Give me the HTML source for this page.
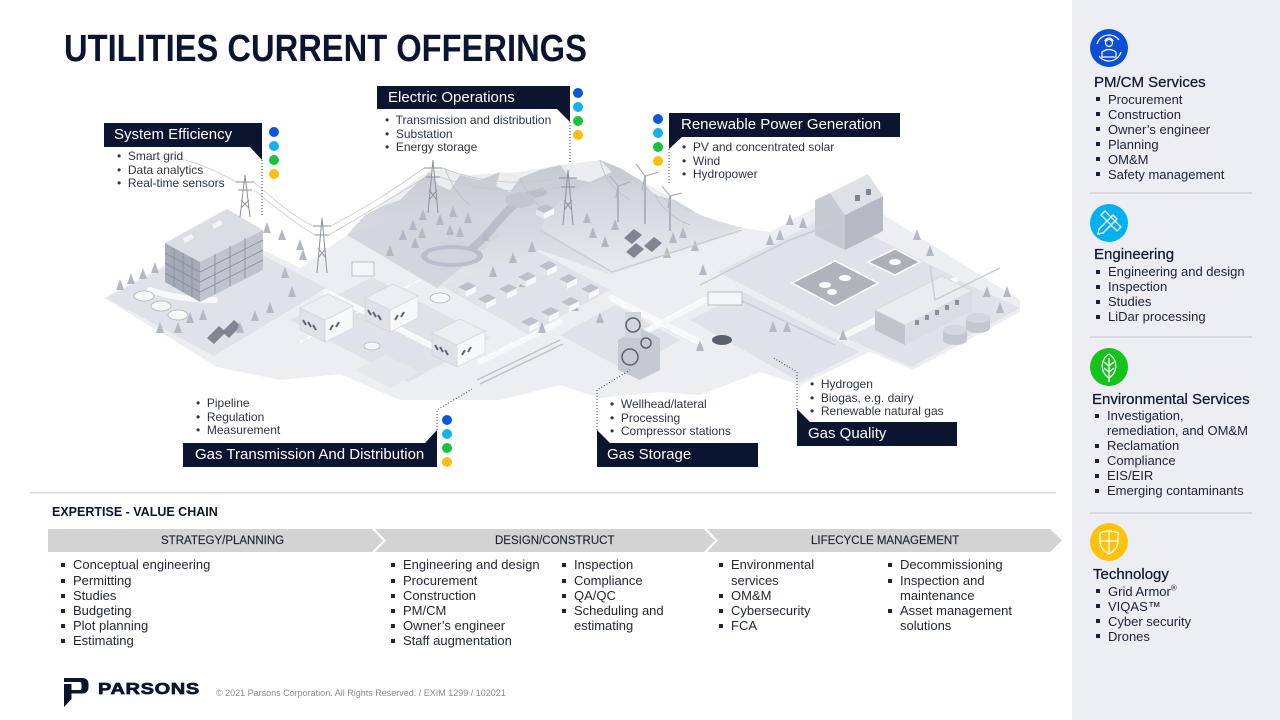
<!DOCTYPE html>
<html><head><meta charset="utf-8">
<style>
*{margin:0;padding:0;box-sizing:border-box}
body{width:1280px;height:720px;position:relative;background:#fff;font-family:"Liberation Sans",sans-serif;overflow:hidden;color:#1b2235}
.abs{position:absolute;white-space:nowrap}
.title{left:64px;top:28px;font-size:38px;font-weight:bold;color:#0c1530;transform:scaleX(0.86);transform-origin:0 0;letter-spacing:0}
.lt{position:absolute;color:#fff;font-size:15px;line-height:24px;white-space:nowrap}
.lb{position:absolute;font-size:12px;line-height:13.5px;color:#2d3446;white-space:nowrap}
.side{position:absolute;left:1072px;top:0;width:208px;height:720px;background:#eceef3}
.sh{position:absolute;font-size:15px;line-height:18px;color:#121a30;white-space:nowrap;-webkit-text-stroke:0.25px #121a30}
.sl{position:absolute;font-size:13px;line-height:15px;color:#1b2235;white-space:nowrap}
.sl div{position:relative;padding-left:12px}
.sl div::before{content:"";position:absolute;left:0;top:5.5px;width:4px;height:4px;background:#1b2235}
.sdiv{position:absolute;left:1090px;width:162px;height:2px;background:#d6d8de}
.vl{position:absolute;font-size:13px;line-height:15.2px;color:#1e2533;white-space:nowrap}
.vl div{position:relative;padding-left:12px}
.vl div::before{content:"";position:absolute;left:0;top:6px;width:4px;height:4px;background:#1e2533}
.ch{position:absolute;top:534px;font-size:11.5px;line-height:14px;color:#1e2533;white-space:nowrap;-webkit-text-stroke:0.15px #1e2533}
</style></head><body>

<div class="side"></div>

<svg class="abs" style="left:0;top:0" width="1280" height="720" viewBox="0 0 1280 720">
<defs>
<linearGradient id="mt" x1="0" y1="0" x2="0" y2="1"><stop offset="0" stop-color="#c4c9d2"/><stop offset="1" stop-color="#e4e7eb"/></linearGradient>
<linearGradient id="mt2" x1="0" y1="0" x2="0" y2="1"><stop offset="0" stop-color="#cdd1d9"/><stop offset="1" stop-color="#e9ebef"/></linearGradient>
</defs>
<!-- base ground -->
<polygon fill="#eceef2" points="104,298 226,232 300,268 347,235 380,205 430,170 470,175 520,172 560,165 600,160 640,180 700,215 742,228 770,232 820,205 860,200 1020,300 1020,312 913,370 870,352 800,385 760,372 700,395 660,392 600,398 560,385 500,400 400,400 340,374 280,380 217,367"/>
<!-- plates -->
<g fill="#dfe2e8">
<polygon points="106,298 226,236 326,288 214,356"/>
<polygon points="290,320 372,277 490,338 408,382"/>
<polygon points="440,285 520,242 610,290 528,334"/>
<polygon points="560,335 615,305 680,340 628,372"/>
<polygon points="718,272 830,215 955,277 840,335"/>
<polygon points="845,338 958,280 1020,308 912,367"/>
<polygon points="690,320 745,293 860,352 800,382"/>
</g>
<!-- roads -->
<g stroke="#f7f8fa" stroke-width="6" fill="none" stroke-linecap="round">
<path d="M215,300 Q180,300 150,290"/><path d="M326,292 L440,350"/><path d="M612,298 L700,342"/><path d="M705,300 L620,345"/><path d="M480,362 L560,322"/><path d="M840,338 L955,280"/>
</g>
<g stroke="#fff" stroke-width="1.5" stroke-dasharray="6,5" fill="none">
<path d="M330,292 L440,348"/><path d="M420,280 L300,342"/><path d="M612,300 L700,345"/><path d="M700,300 L620,345"/><path d="M480,360 L560,320"/>
</g>
<!-- mountains -->
<polygon fill="url(#mt)" points="347,235 365,215 385,205 400,200 415,185 430,172 445,168 460,175 480,180 500,172 520,178 540,170 560,165 585,170 600,160 620,168 640,180 655,195 675,200 700,215 720,222 742,228 612,275 540,250 437,288"/>
<polygon fill="url(#mt2)" points="540,228 560,200 585,185 610,178 640,185 665,200 690,212 720,222 742,228 612,275"/>
<polygon fill="#d2d6dd" points="347,235 400,215 437,205 480,220 500,235 437,288"/>
<g fill="#f4f5f7" opacity="0.8">
<polygon points="430,172 445,168 460,175 450,190 438,185"/>
<polygon points="560,165 585,170 600,160 612,172 590,182 570,178"/>
<polygon points="500,172 520,178 510,192 496,186"/>
</g>
<g stroke="#b8bec8" stroke-width="1" fill="none" opacity="0.8">
<path d="M445,168 Q455,195 470,205"/><path d="M600,160 Q605,185 630,200"/><path d="M520,178 Q530,200 545,210"/><path d="M655,195 Q665,215 690,225"/>
</g>
<!-- lake & river -->
<path d="M470,250 C490,235 500,215 520,200 C530,192 540,195 545,190" stroke="#b9bec8" stroke-width="8" fill="none"/>
<ellipse cx="452" cy="256" rx="31" ry="11" fill="#b9bec8"/>
<ellipse cx="452" cy="256" rx="25" ry="7" fill="#d1d5dc"/>
<ellipse cx="520" cy="200" rx="15" ry="8" fill="#c2c7cf"/>
<!-- office building -->
<polygon fill="#a4aab6" points="165,243 200,262 200,302 165,282"/>
<polygon fill="#bfc4ce" points="200,262 263,230 263,270 200,302"/>
<polygon fill="#dadde3" points="165,243 227,209 263,230 200,262"/>
<g stroke="#868c99" stroke-width="0.8">
<path d="M165,253 L200,272 M165,263 L200,282 M165,273 L200,292 M174,248 V287 M183,253 V292 M192,258 V297"/>
<path d="M200,272 L263,240 M200,282 L263,250 M200,292 L263,260 M215,254 V294 M230,246 V286 M245,238 V278"/>
</g>
<rect x="183" y="236" width="10" height="5" fill="#f3f4f6" transform="rotate(-28 188 238)"/>
<rect x="212" y="222" width="10" height="5" fill="#f3f4f6" transform="rotate(-28 217 224)"/>
<!-- pylons -->
<g stroke="#8a919c" stroke-width="1" fill="none">
<path d="M240,217 L245,175 L250,217 M236,182 H254 M238,190 H252 M241,200 L249,208 M249,200 L241,208"/>
<path d="M317,273 L322,218 L327,273 M313,226 H331 M315,235 H329 M318,248 L326,258 M326,248 L318,258"/>
<path d="M428,213 L433,160 L438,213 M424,168 H442 M426,177 H440 M429,190 L437,200 M437,190 L429,200"/>
<path d="M563,225 L568,170 L573,225 M559,178 H577 M561,187 H575 M564,200 L572,210 M572,200 L564,210"/>
</g>
<g stroke="#c4c8cf" stroke-width="0.8" fill="none">
<path d="M254,182 Q290,215 313,226 M254,190 Q290,220 315,235"/>
<path d="M331,226 Q380,200 424,168 M329,235 Q380,205 426,177"/>
<path d="M442,168 Q500,190 559,178 M440,177 Q500,198 561,187"/>
<path d="M236,182 Q180,150 150,160"/>
</g>
<!-- wind turbines -->
<g stroke="#adb3bd" fill="none">
<path d="M618,222 V186" stroke-width="2"/><path d="M618,186 L610,176 M618,186 L630,182 M618,186 L616,198" stroke-width="1.2"/>
<path d="M645,224 V176" stroke-width="2"/><path d="M645,176 L636,164 M645,176 L659,172 M645,176 L642,190" stroke-width="1.2"/>
<path d="M670,231 V196" stroke-width="2"/><path d="M670,196 L662,186 M670,196 L682,193 M670,196 L668,208" stroke-width="1.2"/>
</g>
<!-- solar panels -->
<g fill="#7f8692">
<polygon points="624,238 634,229 642,235 632,244"/><polygon points="644,246 654,237 662,243 652,252"/><polygon points="626,252 636,243 644,249 634,258"/>
<polygon points="207,338 219,326 226,332 214,344"/><polygon points="222,332 234,320 241,326 229,338"/>
</g>
<!-- trees -->
<g fill="#b3b9c4">
<polygon points="120,279 124,290 116,290"/><polygon points="131,273 135,284 127,284"/><polygon points="143,268 147,279 139,279"/><polygon points="155,262 159,273 151,273"/>
<polygon points="190,312 194,323 186,323"/><polygon points="178,322 182,333 174,333"/><polygon points="203,309 207,320 199,320"/><polygon points="160,322 164,333 156,333"/><polygon points="240,322 244,333 236,333"/><polygon points="255,310 259,321 251,321"/>
<polygon points="267,222 271,233 263,233"/><polygon points="282,229 286,240 278,240"/><polygon points="300,239 304,250 296,250"/><polygon points="303,249 307,260 299,260"/><polygon points="285,267 289,278 281,278"/><polygon points="292,286 296,297 288,297"/><polygon points="270,302 274,313 266,313"/>
<polygon points="423,209 427,220 419,220"/><polygon points="440,214 444,225 436,225"/><polygon points="453,206 457,217 449,217"/><polygon points="468,212 472,223 464,223"/><polygon points="413,219 417,230 409,230"/><polygon points="422,227 426,238 418,238"/><polygon points="450,224 454,235 446,235"/><polygon points="460,226 464,237 456,237"/><polygon points="403,229 407,240 399,240"/><polygon points="415,237 419,248 411,248"/><polygon points="390,245 394,256 386,256"/><polygon points="485,230 489,241 481,241"/>
<polygon points="513,252 517,263 509,263"/><polygon points="532,241 536,252 528,252"/><polygon points="493,266 497,277 489,277"/><polygon points="470,282 474,293 466,293"/><polygon points="542,322 546,333 538,333"/><polygon points="523,276 527,287 519,287"/><polygon points="575,300 579,311 571,311"/><polygon points="600,312 604,323 596,323"/>
<polygon points="587,212 591,223 583,223"/><polygon points="593,227 597,238 589,238"/><polygon points="605,236 609,247 601,247"/><polygon points="615,219 619,230 611,230"/><polygon points="673,232 677,243 669,243"/><polygon points="683,227 687,238 679,238"/><polygon points="667,247 671,258 663,258"/><polygon points="703,264 707,275 699,275"/><polygon points="695,240 699,251 691,251"/>
<polygon points="770,234 774,245 766,245"/><polygon points="780,229 784,240 776,240"/><polygon points="790,214 794,225 786,225"/><polygon points="803,217 807,228 799,228"/><polygon points="917,229 921,240 913,240"/><polygon points="930,245 934,256 926,256"/>
<polygon points="987,286 991,297 983,297"/><polygon points="1007,286 1011,297 1003,297"/><polygon points="1000,302 1004,313 996,313"/>
<polygon points="773,321 777,332 769,332"/><polygon points="787,321 791,332 783,332"/><polygon points="843,329 847,340 839,340"/><polygon points="700,340 704,351 696,351"/>
</g>
<!-- houses -->
<g>
<g transform="translate(487,300)"><polygon fill="#e2e5e9" points="-9,-1 -1,3 -1,9 -9,5"/><polygon fill="#f7f8f9" points="-1,3 9,-2 9,4 -1,9"/><polygon fill="#bcc1ca" points="-9,-1 1,-6 9,-2 -1,3"/></g>
<g transform="translate(508,290)"><polygon fill="#e2e5e9" points="-9,-1 -1,3 -1,9 -9,5"/><polygon fill="#f7f8f9" points="-1,3 9,-2 9,4 -1,9"/><polygon fill="#bcc1ca" points="-9,-1 1,-6 9,-2 -1,3"/></g>
<g transform="translate(527,278)"><polygon fill="#e2e5e9" points="-9,-1 -1,3 -1,9 -9,5"/><polygon fill="#f7f8f9" points="-1,3 9,-2 9,4 -1,9"/><polygon fill="#bcc1ca" points="-9,-1 1,-6 9,-2 -1,3"/></g>
<g transform="translate(548,267)"><polygon fill="#e2e5e9" points="-9,-1 -1,3 -1,9 -9,5"/><polygon fill="#f7f8f9" points="-1,3 9,-2 9,4 -1,9"/><polygon fill="#bcc1ca" points="-9,-1 1,-6 9,-2 -1,3"/></g>
<g transform="translate(530,323)"><polygon fill="#e2e5e9" points="-9,-1 -1,3 -1,9 -9,5"/><polygon fill="#f7f8f9" points="-1,3 9,-2 9,4 -1,9"/><polygon fill="#bcc1ca" points="-9,-1 1,-6 9,-2 -1,3"/></g>
<g transform="translate(550,313)"><polygon fill="#e2e5e9" points="-9,-1 -1,3 -1,9 -9,5"/><polygon fill="#f7f8f9" points="-1,3 9,-2 9,4 -1,9"/><polygon fill="#bcc1ca" points="-9,-1 1,-6 9,-2 -1,3"/></g>
<g transform="translate(590,290)"><polygon fill="#e2e5e9" points="-9,-1 -1,3 -1,9 -9,5"/><polygon fill="#f7f8f9" points="-1,3 9,-2 9,4 -1,9"/><polygon fill="#bcc1ca" points="-9,-1 1,-6 9,-2 -1,3"/></g>
<g transform="translate(570,303)"><polygon fill="#e2e5e9" points="-9,-1 -1,3 -1,9 -9,5"/><polygon fill="#f7f8f9" points="-1,3 9,-2 9,4 -1,9"/><polygon fill="#bcc1ca" points="-9,-1 1,-6 9,-2 -1,3"/></g>
<g transform="translate(568,280)"><polygon fill="#e2e5e9" points="-9,-1 -1,3 -1,9 -9,5"/><polygon fill="#f7f8f9" points="-1,3 9,-2 9,4 -1,9"/><polygon fill="#bcc1ca" points="-9,-1 1,-6 9,-2 -1,3"/></g>
<g transform="translate(545,210)"><polygon fill="#e2e5e9" points="-9,-1 -1,3 -1,9 -9,5"/><polygon fill="#f7f8f9" points="-1,3 9,-2 9,4 -1,9"/><polygon fill="#bcc1ca" points="-9,-1 1,-6 9,-2 -1,3"/></g>
<g transform="translate(467,288)"><polygon fill="#e2e5e9" points="-9,-1 -1,3 -1,9 -9,5"/><polygon fill="#f7f8f9" points="-1,3 9,-2 9,4 -1,9"/><polygon fill="#bcc1ca" points="-9,-1 1,-6 9,-2 -1,3"/></g>
</g>
<!-- shops -->
<g stroke="#cdd1d8" stroke-width="0.6">
<g><polygon fill="#dfe2e8" points="300,330 325,342 325,320 300,308"/><polygon fill="#f7f8fa" points="325,342 353,328 353,306 325,320"/><polygon fill="#eceef2" points="300,308 325,320 353,306 328,294"/></g>
<g transform="translate(65,-10)"><polygon fill="#dfe2e8" points="300,330 325,342 325,320 300,308"/><polygon fill="#f7f8fa" points="325,342 353,328 353,306 325,320"/><polygon fill="#eceef2" points="300,308 325,320 353,306 328,294"/></g>
<g transform="translate(132,25)"><polygon fill="#dfe2e8" points="300,330 325,342 325,320 300,308"/><polygon fill="#f7f8fa" points="325,342 353,328 353,306 325,320"/><polygon fill="#eceef2" points="300,308 325,320 353,306 328,294"/></g>
</g>
<g stroke="#5f6570" stroke-width="2">
<path d="M303,320 l3,5 M308,322 l3,5 M313,325 l3,5 M330,330 l3,-5 M336,327 l3,-5"/>
<path d="M368,310 l3,5 M373,312 l3,5 M378,315 l3,5 M395,320 l3,-5 M401,317 l3,-5"/>
<path d="M435,345 l3,5 M440,347 l3,5 M445,350 l3,5 M462,355 l3,-5 M468,352 l3,-5"/>
</g>
<polygon fill="#e6e8ec" points="355,370 385,355 420,372 390,388"/>
<!-- pipes -->
<path d="M477,380 L560,340 M480,384 L563,344" stroke="#bfc3cb" stroke-width="1.5" fill="none"/>
<!-- gas storage equipment -->
<polygon fill="#c5c9d1" points="618,340 640,328 660,338 660,370 640,380 618,370"/>
<rect x="625" y="312" width="16" height="26" fill="#d1d5dc"/>
<g stroke="#5c626d" stroke-width="1.5" fill="none"><circle cx="633" cy="325" r="7"/><circle cx="630" cy="357" r="8"/><circle cx="646" cy="343" r="5"/></g>
<!-- barn -->
<polygon fill="#b4b9c3" points="845,215 883,196 883,231 845,250"/>
<polygon fill="#c6cad2" points="815,235 845,250 845,215 830,193 815,200"/>
<polygon fill="#dee1e6" points="830,193 868,174 883,196 845,215"/>
<rect x="855" y="195" width="5" height="6" fill="#7f8692"/><rect x="866" y="189" width="5" height="6" fill="#7f8692"/>
<!-- cow pens -->
<polygon fill="#aeb3bc" stroke="#fff" stroke-width="1.5" points="792,283 835,261 878,283 835,306"/>
<polygon fill="#abb0b9" stroke="#fff" stroke-width="1.5" points="868,262 895,249 920,262 895,275"/>
<g fill="#fff"><ellipse cx="825" cy="285" rx="6" ry="3"/><ellipse cx="845" cy="278" rx="6" ry="3"/><ellipse cx="832" cy="292" rx="5" ry="3"/><ellipse cx="895" cy="262" rx="6" ry="3"/></g>
<!-- long barn -->
<polygon fill="#c0c5cd" points="875,330 905,345 905,325 875,310"/>
<polygon fill="#dadde3" points="905,345 972,311 972,291 905,325"/>
<polygon fill="#eaecef" stroke="#d0d3d9" stroke-width="0.6" points="875,310 905,325 972,291 942,276"/>
<g fill="#8a919d"><rect x="915" y="320" width="4" height="5"/><rect x="925" y="315" width="4" height="5"/><rect x="935" y="310" width="4" height="5"/><rect x="945" y="305" width="4" height="5"/><rect x="955" y="300" width="4" height="5"/></g>
<g fill="#c3c7cf"><rect x="943" y="330" width="24" height="10"/><ellipse cx="955" cy="340" rx="12" ry="5"/><ellipse cx="955" cy="330" rx="12" ry="5" fill="#d4d7dd"/>
<rect x="966" y="318" width="24" height="10"/><ellipse cx="978" cy="328" rx="12" ry="5"/><ellipse cx="978" cy="318" rx="12" ry="5" fill="#d4d7dd"/></g>
<!-- fences -->
<g stroke="#c9cdd4" stroke-width="1.5" fill="none">
<path d="M540,230 L612,272 L742,230"/><path d="M700,285 L790,240 L830,225"/><path d="M740,300 L835,345"/><path d="M935,300 L1000,268"/><path d="M930,265 L935,300"/>
</g>
<!-- vehicles -->
<rect x="352" y="262" width="22" height="14" fill="#f4f5f7" stroke="#aeb3bc" stroke-width="0.8"/>
<rect x="708" y="292" width="34" height="13" fill="#f4f5f7" stroke="#aeb3bc" stroke-width="0.8"/>
<ellipse cx="722" cy="340" rx="10" ry="5" fill="#5a606b"/>
<g fill="#f6f7f9" stroke="#aeb3bc" stroke-width="0.8"><ellipse cx="144" cy="296" rx="10" ry="5"/><ellipse cx="161" cy="306" rx="10" ry="5"/><ellipse cx="178" cy="315" rx="10" ry="5"/><ellipse cx="440" cy="298" rx="10" ry="5"/><ellipse cx="372" cy="346" rx="8" ry="4"/></g>

<!-- label boxes -->
<g fill="#0b1530">
<rect x="104" y="123" width="158" height="24"/><polygon points="250,147 262,147 262,160"/>
<rect x="377" y="86" width="193" height="23"/><polygon points="557,109 570,109 570,122"/>
<rect x="669" y="113" width="231" height="24"/><polygon points="669,137 682,137 669,149"/>
<rect x="183" y="443" width="254" height="24"/><polygon points="425,443 437,443 437,430"/>
<rect x="597" y="443" width="161" height="24"/><polygon points="597,443 610,443 597,430"/>
<rect x="797" y="422" width="160" height="24"/><polygon points="797,422 810,422 797,409"/>
</g>
<g stroke="#3b4150" stroke-width="1" stroke-dasharray="1,2" fill="none">
<path d="M262,160 V215"/><path d="M570,122 V162"/><path d="M669,149 V185"/>
<path d="M437,430 V410 L472,389"/><path d="M597,430 V390 L630,370"/><path d="M797,409 V372 L772,357"/>
</g>
<!-- colored dots -->
<g>
<circle cx="274" cy="132" r="5" fill="#0a58d6"/><circle cx="274" cy="146" r="5" fill="#14b1ec"/><circle cx="274" cy="160" r="5" fill="#17c33a"/><circle cx="274" cy="174" r="5" fill="#fdbf0f"/>
<circle cx="578" cy="93" r="5" fill="#0a58d6"/><circle cx="578" cy="107" r="5" fill="#14b1ec"/><circle cx="578" cy="121" r="5" fill="#17c33a"/><circle cx="578" cy="135" r="5" fill="#fdbf0f"/>
<circle cx="658" cy="119" r="5" fill="#0a58d6"/><circle cx="658" cy="133" r="5" fill="#14b1ec"/><circle cx="658" cy="147" r="5" fill="#17c33a"/><circle cx="658" cy="161" r="5" fill="#fdbf0f"/>
<circle cx="447" cy="420" r="5" fill="#0a58d6"/><circle cx="447" cy="434" r="5" fill="#14b1ec"/><circle cx="447" cy="448" r="5" fill="#17c33a"/><circle cx="447" cy="462" r="5" fill="#fdbf0f"/>
</g>

<!-- divider & chevrons -->
<rect x="30" y="492" width="1026" height="1.5" fill="#d8d9dc"/>
<g fill="#d3d3d3">
<polygon points="48,529 372,529 383,540.5 372,552 48,552"/>
<polygon points="375,529 704,529 715,540.5 704,552 375,552 386,540.5"/>
<polygon points="707,529 1050,529 1062,540.5 1050,552 707,552 718,540.5"/>
</g>

<!-- sidebar icons -->
<circle cx="1109" cy="48" r="19" fill="#0b50d4"/>
<g stroke="#fff" stroke-width="1.2" fill="none">
<path d="M1097,44 A12.5,12.5 0 0 1 1119,40"/><path d="M1121,52 A12.5,12.5 0 0 1 1099,56"/>
<circle cx="1109" cy="43" r="3.5"/><path d="M1104.5,41 Q1109,35 1113.5,41"/><path d="M1102,57 V52 Q1109,47 1116,52 V57 Z"/>
</g>
<circle cx="1109" cy="223" r="19" fill="#00b0f0"/>
<g stroke="#fff" stroke-width="1.3" fill="none">
<path d="M1099,229 L1113,215 L1117,219 L1103,233 L1098,234 Z"/>
<path d="M1101,215 L1105,211 L1121,227 L1117,231 Z"/>
</g>
<circle cx="1109" cy="367" r="19" fill="#16c21c"/>
<g stroke="#fff" stroke-width="1.3" fill="none">
<path d="M1109,354 C1118,360 1118,372 1109,378 C1100,372 1100,360 1109,354 Z"/>
<path d="M1109,358 V382 M1109,366 L1104,362 M1109,366 L1114,362 M1109,372 L1104,368 M1109,372 L1114,368"/>
</g>
<circle cx="1109" cy="542" r="19" fill="#ffc20e"/>
<g stroke="#fff" stroke-width="1.3" fill="none">
<path d="M1100,533 Q1109,529 1118,533 V541 Q1118,549 1109,554 Q1100,549 1100,541 Z"/>
<path d="M1109,531 V554 M1100,541 H1118"/>
</g>
<!-- Parsons logo -->
<path d="M64,678 H82 Q88.5,678 88.5,684.5 V687 Q88.5,693.5 82,693.5 H71.5 V690 H80 Q81.5,690 81.5,688 V684 Q81.5,682 80,682 H64 Z" fill="#0c1530"/>
<path d="M64,684 H71.5 V699 L64,707 Z" fill="#0c1530"/>
</svg>

<div class="abs title">UTILITIES CURRENT OFFERINGS</div>

<!-- label titles -->
<div class="lt" style="left:114px;top:123px">System Efficiency</div>
<div class="lt" style="left:388px;top:86px">Electric Operations</div>
<div class="lt" style="left:681px;top:113px">Renewable Power Generation</div>
<div class="lt" style="left:195px;top:443px">Gas Transmission And Distribution</div>
<div class="lt" style="left:607px;top:443px">Gas Storage</div>
<div class="lt" style="left:808px;top:422px">Gas Quality</div>

<!-- label bullets -->
<div class="lb" style="left:117px;top:150px">•&nbsp; Smart grid<br>•&nbsp; Data analytics<br>•&nbsp; Real-time sensors</div>
<div class="lb" style="left:385px;top:114px">•&nbsp; Transmission and distribution<br>•&nbsp; Substation<br>•&nbsp; Energy storage</div>
<div class="lb" style="left:682px;top:141px">•&nbsp; PV and concentrated solar<br>•&nbsp; Wind<br>•&nbsp; Hydropower</div>
<div class="lb" style="left:196px;top:397px">•&nbsp; Pipeline<br>•&nbsp; Regulation<br>•&nbsp; Measurement</div>
<div class="lb" style="left:610px;top:398px">•&nbsp; Wellhead/lateral<br>•&nbsp; Processing<br>•&nbsp; Compressor stations</div>
<div class="lb" style="left:810px;top:378px">•&nbsp; Hydrogen<br>•&nbsp; Biogas, e.g. dairy<br>•&nbsp; Renewable natural gas</div>

<!-- sidebar -->
<div class="sh" style="left:1094px;top:74px">PM/CM Services</div>
<div class="sl" style="left:1096px;top:91.5px"><div>Procurement</div><div>Construction</div><div>Owner’s engineer</div><div>Planning</div><div>OM&amp;M</div><div>Safety management</div></div>
<div class="sdiv" style="top:192px"></div>
<div class="sh" style="left:1094px;top:246px">Engineering</div>
<div class="sl" style="left:1096px;top:264px"><div>Engineering and design</div><div>Inspection</div><div>Studies</div><div>LiDar processing</div></div>
<div class="sdiv" style="top:336px"></div>
<div class="sh" style="left:1092px;top:391px">Environmental Services</div>
<div class="sl" style="left:1095px;top:408px"><div>Investigation,<br>remediation, and OM&amp;M</div><div>Reclamation</div><div>Compliance</div><div>EIS/EIR</div><div>Emerging contaminants</div></div>
<div class="sdiv" style="top:512px"></div>
<div class="sh" style="left:1093px;top:566px">Technology</div>
<div class="sl" style="left:1096px;top:583.5px"><div>Grid Armor<sup style="font-size:8px;line-height:0">®</sup></div><div>VIQAS™</div><div>Cyber security</div><div>Drones</div></div>

<!-- value chain -->
<div class="abs" style="left:52px;top:504px;font-size:12.5px;font-weight:bold;color:#0c1530;line-height:16px">EXPERTISE - VALUE CHAIN</div>
<div class="ch" style="left:161px">STRATEGY/PLANNING</div>
<div class="ch" style="left:495px">DESIGN/CONSTRUCT</div>
<div class="ch" style="left:811px">LIFECYCLE MANAGEMENT</div>

<div class="vl" style="left:61px;top:557.4px"><div>Conceptual engineering</div><div>Permitting</div><div>Studies</div><div>Budgeting</div><div>Plot planning</div><div>Estimating</div></div>
<div class="vl" style="left:391px;top:557.4px"><div>Engineering and design</div><div>Procurement</div><div>Construction</div><div>PM/CM</div><div>Owner’s engineer</div><div>Staff augmentation</div></div>
<div class="vl" style="left:562px;top:557.4px"><div>Inspection</div><div>Compliance</div><div>QA/QC</div><div>Scheduling and<br>estimating</div></div>
<div class="vl" style="left:719px;top:557.4px"><div>Environmental<br>services</div><div>OM&amp;M</div><div>Cybersecurity</div><div>FCA</div></div>
<div class="vl" style="left:888px;top:557.4px"><div>Decommissioning</div><div>Inspection and<br>maintenance</div><div>Asset management<br>solutions</div></div>

<!-- footer -->
<div class="abs" style="left:98px;top:681px;font-family:'Liberation Sans',sans-serif;font-size:16px;font-weight:bold;letter-spacing:0.5px;color:#0c1530;line-height:18px;transform:scaleX(1.25);transform-origin:0 0;-webkit-text-stroke:0.7px #0c1530">PARSONS</div>
<div class="abs" style="left:216px;top:687px;font-size:9px;line-height:12px;color:#8a8a8a">© 2021 Parsons Corporation. All Rights Reserved. / EXIM 1299 / 102021</div>

</body></html>
